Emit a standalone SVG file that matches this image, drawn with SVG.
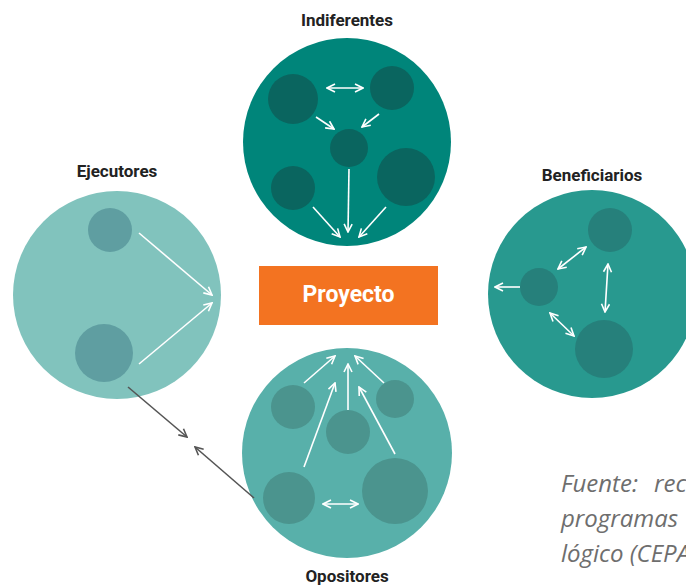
<svg xmlns="http://www.w3.org/2000/svg" width="686" height="586" viewBox="0 0 686 586">
<defs>
<style>
.lbl{font-family:Roboto,"Liberation Sans",sans-serif;font-weight:bold;font-size:17px;fill:#222;text-anchor:middle}
.w{stroke:#fff;stroke-width:1.6;fill:none;marker-end:url(#wh)}
.w2{stroke:#fff;stroke-width:1.6;fill:none;marker-end:url(#wh);marker-start:url(#wh)}
.g{stroke:#555;stroke-width:1.6;fill:none;marker-end:url(#gh)}
.src{font-family:"Open Sans","Liberation Sans",sans-serif;font-style:italic;font-size:24px;fill:#6e6e6e}
</style>
<marker id="wh" viewBox="0 0 10 10" refX="9" refY="5" markerWidth="10" markerHeight="10" markerUnits="userSpaceOnUse" orient="auto-start-reverse">
<path d="M1,1 L9,5 L1,9" fill="none" stroke="#fff" stroke-width="1.6"/>
</marker>
<marker id="gh" viewBox="0 0 10 10" refX="9" refY="5" markerWidth="10" markerHeight="10" markerUnits="userSpaceOnUse" orient="auto-start-reverse">
<path d="M1,1 L9,5 L1,9" fill="none" stroke="#555" stroke-width="1.6"/>
</marker>
</defs>
<rect width="686" height="586" fill="#fff"/>

<g id="indiferentes">
<text class="lbl" x="347" y="26">Indiferentes</text>
<circle cx="347" cy="142" r="104" fill="#00857a"/>
<g fill="#0a655f">
<circle cx="293" cy="99" r="25"/>
<circle cx="392" cy="88" r="22"/>
<circle cx="349" cy="148" r="19"/>
<circle cx="293" cy="188" r="22"/>
<circle cx="406" cy="177" r="29"/>
</g>
<line class="w2" x1="327" y1="88" x2="363" y2="88"/>
<line class="w" x1="316" y1="117" x2="334" y2="129"/>
<line class="w" x1="379" y1="114" x2="362" y2="127"/>
<line class="w" x1="349" y1="169" x2="348" y2="232"/>
<line class="w" x1="313" y1="207" x2="340" y2="237"/>
<line class="w" x1="386" y1="207" x2="359" y2="237"/>
</g>

<g id="ejecutores">
<text class="lbl" x="117" y="177">Ejecutores</text>
<circle cx="117" cy="295" r="104" fill="#81c3bd"/>
<g fill="#5f9ea1">
<circle cx="110" cy="230" r="22"/>
<circle cx="104" cy="353" r="29"/>
</g>
<line class="w" x1="139" y1="233" x2="212" y2="295"/>
<line class="w" x1="139" y1="364" x2="212" y2="303"/>
</g>

<g id="beneficiarios">
<text class="lbl" x="592" y="181">Beneficiarios</text>
<circle cx="592" cy="294" r="104" fill="#28998f"/>
<g fill="#26807b">
<circle cx="610" cy="230" r="22"/>
<circle cx="539" cy="287" r="19"/>
<circle cx="604" cy="349" r="29"/>
</g>
<line class="w2" x1="558" y1="269" x2="586" y2="247"/>
<line class="w2" x1="608" y1="264" x2="605" y2="312"/>
<line class="w2" x1="550" y1="313" x2="574" y2="336"/>
<line class="w" x1="520" y1="287" x2="495" y2="287"/>
</g>

<g id="opositores">
<text class="lbl" x="347" y="582">Opositores</text>
<circle cx="347" cy="453" r="105" fill="#58b0aa"/>
<g fill="#4b948e">
<circle cx="293" cy="407" r="22"/>
<circle cx="395" cy="399" r="19"/>
<circle cx="348" cy="432" r="22"/>
<circle cx="289" cy="498" r="26"/>
<circle cx="395" cy="491" r="33"/>
</g>
<line class="w" x1="304" y1="383" x2="335" y2="356"/>
<line class="w" x1="348" y1="410" x2="348" y2="364"/>
<line class="w" x1="384" y1="383" x2="355" y2="356"/>
<line class="w" x1="304" y1="467" x2="335" y2="383"/>
<line class="w" x1="395" y1="454" x2="359" y2="387"/>
<line class="w2" x1="323" y1="504" x2="358" y2="504"/>
</g>

<g id="proyecto">
<rect x="259" y="266" width="179" height="59" fill="#f37321"/>
<text x="348.5" y="302" text-anchor="middle" font-family="Roboto,'Liberation Sans',sans-serif" font-weight="bold" font-size="23" fill="#fff">Proyecto</text>
</g>

<g id="connectors">
<line class="g" x1="128" y1="387" x2="187" y2="437"/>
<line class="g" x1="254" y1="498" x2="195" y2="447"/>
</g>

<g id="fuente">
<text class="src" x="561" y="492">Fuente:</text>
<text class="src" x="654" y="492">rec</text>
<text class="src" x="561" y="527">programas</text>
<text class="src" x="561" y="562">lógico (CEPA</text>
</g>
</svg>
